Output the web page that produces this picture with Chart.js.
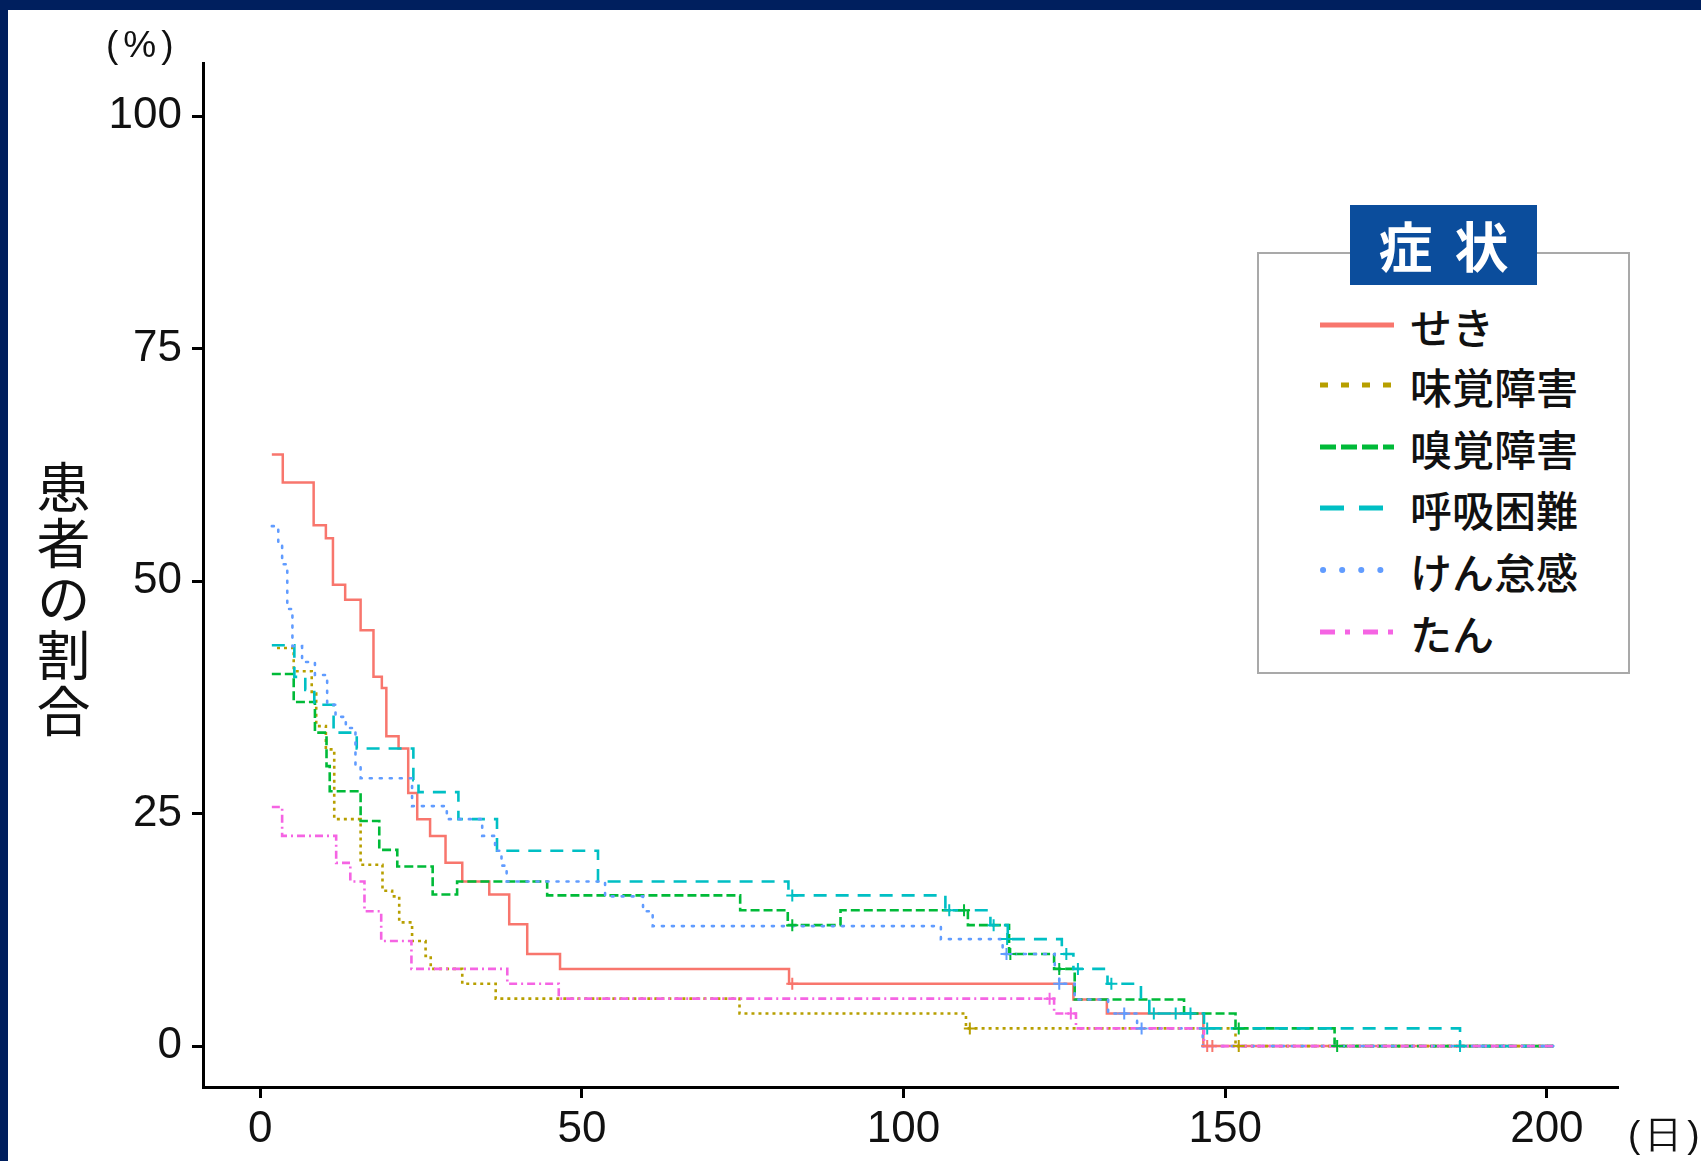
<!DOCTYPE html>
<html>
<head>
<meta charset="utf-8">
<script src="https://cdn.jsdelivr.net/npm/chart.js@4.4.1/dist/chart.umd.min.js"></script>
<style>
  html, body { margin: 0; padding: 0; background: #fff; }
  #wrap { position: relative; width: 1701px; height: 1161px; overflow: hidden; background: #fff; }
  #chart { position: absolute; left: 0; top: 0; }
  .frame-top { position: absolute; left: 0; top: 0; width: 1701px; height: 10px; background: #001f5e; }
  .frame-left { position: absolute; left: 0; top: 0; width: 8px; height: 1161px; background: #001f5e; }
  .unit { position: absolute; font-family: "Liberation Sans", Arial, sans-serif; color: #111; font-size: 37px; letter-spacing: 5px; }
  #ytitle { position: absolute; left: 24px; top: 460px; writing-mode: vertical-rl; font-family: "Noto Sans CJK JP", sans-serif; font-size: 54px; color: #111; letter-spacing: 2px; }
  #legend { position: absolute; left: 1257px; top: 252px; width: 369px; height: 418px; border: 2px solid #a9a9a9; background: #fff; }
  #legend-title { position: absolute; left: 1350px; top: 205px; width: 187px; height: 80px; background: #0b4d9c; color: #fff; font-family: "Noto Sans CJK JP", sans-serif; font-weight: 700; font-size: 54px; line-height: 80px; text-align: center; letter-spacing: 22px; text-indent: 22px; }
  .item { position: absolute; left: 1320px; height: 50px; display: flex; align-items: center; }
  .item svg { width: 74px; height: 14px; margin-right: 16px; }
  .item span { font-family: "Noto Sans CJK JP", sans-serif; font-size: 42px; font-weight: 500; color: #111; }
</style>
</head>
<body>
<div id="wrap">
  <canvas id="chart" width="1701" height="1161"></canvas>
  <div class="frame-top"></div>
  <div class="frame-left"></div>
  <div class="unit" style="left:106px; top:24px;">(%)</div>
  <div class="unit" style="left:1628px; top:1110px;">(日)</div>
  <div id="ytitle">患者の割合</div>
  <div id="legend"></div>
  <div id="legend-title">症状</div>
  <div id="legend-items"></div>
</div>
<script>
// symptom names and ggplot colours
const seriesNames = ['せき', '味覚障害', '嗅覚障害', '呼吸困難', 'けん怠感', 'たん'];
const seriesColors = ['#F8766D', '#B79F00', '#00BA38', '#00BFC4', '#619CFF', '#F564E3'];

const xTicks = [0, 50, 100, 150, 200];
const yTicks = [0, 25, 50, 75, 100];

// [day, %] - value holds from that day on
const sekiSteps = [[1.8, 63.6], [3.5, 60.6], [8.3, 56.0], [10.2, 54.6], [11.3, 49.6], [13.2, 48.0], [15.6, 44.7],
  [17.6, 39.7], [18.9, 38.5], [19.6, 33.3], [21.5, 32.0], [23.0, 27.2], [24.4, 24.4], [26.4, 22.6], [28.8, 19.7],
  [31.4, 17.7], [35.6, 16.3], [38.7, 13.1], [41.5, 9.9], [46.6, 8.3], [82.2, 6.7], [126.4, 5.0], [131.6, 3.5],
  [146.6, 0], [201, 0]];
const mikakuSteps = [[2.6, 42.8], [5.2, 40.3], [8.0, 37.9], [8.7, 34.4], [10.2, 31.9], [11.5, 24.4], [15.6, 19.5],
  [19.0, 16.7], [20.5, 16.1], [21.6, 13.3], [23.6, 11.3], [25.7, 9.7], [26.5, 8.3], [31.4, 6.7], [36.6, 5.1],
  [74.5, 3.5], [109.7, 1.9], [151.6, 0], [201, 0]];
const kyukakuSteps = [[1.8, 40.0], [5.2, 37.0], [8.5, 33.7], [10.3, 30.1], [10.8, 27.4], [15.6, 24.2], [18.5, 21.1],
  [21.3, 19.3], [26.8, 16.3], [30.6, 17.7], [44.6, 16.2], [74.6, 14.6], [82.0, 13.0], [90.2, 14.6], [110.0, 13.0],
  [116.4, 9.9], [123.4, 8.3], [126.6, 5.0], [143.6, 3.5], [151.6, 1.9], [167.0, 0], [201, 0]];
const kokyuSteps = [[1.8, 43.1], [5.3, 39.7], [7.0, 38.3], [8.4, 36.7], [11.4, 33.7], [15.0, 32.0], [23.8, 28.6],
  [24.6, 27.3], [30.8, 24.4], [36.8, 21.0], [52.5, 17.7], [82.1, 16.2], [106.5, 14.6], [113.5, 13.0], [116.2, 11.5],
  [124.6, 9.9], [126.4, 8.3], [131.7, 6.7], [136.9, 5.0], [138.2, 3.5], [146.7, 1.9], [186.5, 0], [201, 0]];
const kentaiSteps = [[1.8, 55.9], [2.8, 54.0], [3.4, 51.8], [4.2, 47.0], [5.0, 43.0], [6.5, 41.3], [8.5, 39.9],
  [10.4, 36.7], [11.7, 35.4], [13.3, 34.2], [14.8, 30.1], [15.6, 28.8], [23.6, 25.8], [29.0, 24.4], [34.5, 22.6],
  [36.5, 21.0], [37.5, 19.4], [38.3, 17.7], [53.6, 16.1], [59.5, 14.5], [61.0, 12.9], [105.8, 11.5], [115.4, 9.9],
  [123.5, 8.3], [124.2, 6.7], [126.6, 5.0], [131.8, 3.5], [136.3, 1.9], [146.5, 0], [201, 0]];
const tanSteps = [[1.8, 25.7], [3.4, 22.6], [11.8, 19.7], [14.0, 17.7], [16.2, 14.5], [18.8, 11.3], [23.5, 8.3],
  [38.4, 6.7], [46.4, 5.1], [123.4, 3.5], [126.8, 1.9], [146.7, 0], [201, 0]];

// censor marks (+)
const sekiCensor = [[82.7, 6.7], [147.2, 0], [148.0, 0]];
const mikakuCensor = [[110.3, 1.9], [152.1, 0]];
const kyukakuCensor = [[82.7, 13.0], [109.4, 14.6], [116.6, 9.9], [124.2, 8.3], [152.1, 1.9], [167.4, 0]];
const kokyuCensor = [[82.7, 16.2], [107.1, 14.6], [114.0, 13.0], [116.1, 11.5], [125.3, 9.9], [127.1, 8.3],
  [132.3, 6.7], [138.9, 3.5], [142.3, 3.5], [144.6, 3.5], [147.2, 1.9], [186.5, 0]];
const kentaiCensor = [[116.0, 9.9], [124.2, 6.7], [134.3, 3.5], [137.0, 1.9]];
const tanCensor = [[122.7, 5.1], [126.0, 3.5]];

const stepData = [sekiSteps, mikakuSteps, kyukakuSteps, kokyuSteps, kentaiSteps, tanSteps];
const censorData = [sekiCensor, mikakuCensor, kyukakuCensor, kokyuCensor, kentaiCensor, tanCensor];
const plotDash = [[], [3, 4], [9, 4], [13, 9], [2, 8], [8, 4, 2, 4]];
const legendDash = ['', '8 13', '16 5', '24 15', '0.1 19', '15 10 5 13'];

const FONT = '"Liberation Sans", Arial, sans-serif';

const datasets = [];
seriesNames.forEach((name, i) => {
  datasets.push({
    label: name,
    data: stepData[i].map(([x, y]) => ({ x, y })),
    stepped: true,
    borderColor: seriesColors[i],
    borderWidth: i === 0 ? 2.5 : 2.6,
    borderDash: plotDash[i],
    borderCapStyle: i === 4 ? 'round' : 'butt',
    pointRadius: 0,
    fill: false,
    order: 20 - i
  });
  datasets.push({
    label: name + ' censor',
    data: censorData[i].map(([x, y]) => ({ x, y })),
    showLine: false,
    pointStyle: 'cross',
    pointRadius: 6,
    pointBorderWidth: 2,
    pointBorderColor: seriesColors[i],
    pointBackgroundColor: seriesColors[i],
    order: 10 - i
  });
});

new Chart(document.getElementById('chart'), {
  type: 'line',
  data: { datasets },
  options: {
    responsive: false,
    animation: false,
    devicePixelRatio: 1,
    layout: { padding: { left: 0, top: 63, right: 84, bottom: 0 } },
    plugins: { legend: { display: false }, tooltip: { enabled: false } },
    scales: {
      x: {
        type: 'linear',
        min: -8.9,
        max: 210.9,
        afterBuildTicks: (s) => { s.ticks = xTicks.map((v) => ({ value: v })); },
        afterFit: (s) => { s.height = 74; },
        ticks: { font: { family: FONT, size: 44 }, color: '#111', padding: 5, maxRotation: 0, autoSkip: false },
        grid: { display: true, drawOnChartArea: false, drawTicks: true, tickLength: 11, lineWidth: 3, color: '#000' },
        border: { display: true, width: 3, color: '#000' }
      },
      y: {
        type: 'linear',
        min: -4.4,
        max: 105.7,
        afterBuildTicks: (s) => { s.ticks = yTicks.map((v) => ({ value: v })); },
        afterFit: (s) => { s.width = 203; },
        ticks: { font: { family: FONT, size: 44 }, color: '#111', padding: 10 },
        grid: { display: true, drawOnChartArea: false, drawTicks: true, tickLength: 11, lineWidth: 3, color: '#000' },
        border: { display: true, width: 3, color: '#000' }
      }
    }
  }
});

// legend rows with line samples
const rowCenters = [325, 385, 447, 508, 570, 632];
const items = document.getElementById('legend-items');
seriesNames.forEach((name, i) => {
  const row = document.createElement('div');
  row.className = 'item';
  row.style.top = (rowCenters[i] - 25) + 'px';
  const cap = i === 4 ? 'round' : 'butt';
  const dash = legendDash[i] ? ` stroke-dasharray="${legendDash[i]}"` : '';
  row.innerHTML = `<svg viewBox="0 0 74 14"><line x1="${i === 4 ? 3 : 0}" y1="7" x2="74" y2="7" stroke="${seriesColors[i]}" stroke-width="${i === 4 ? 6 : 5}" stroke-linecap="${cap}"${dash}/></svg><span>${name}</span>`;
  items.appendChild(row);
});
</script>
</body>
</html>
